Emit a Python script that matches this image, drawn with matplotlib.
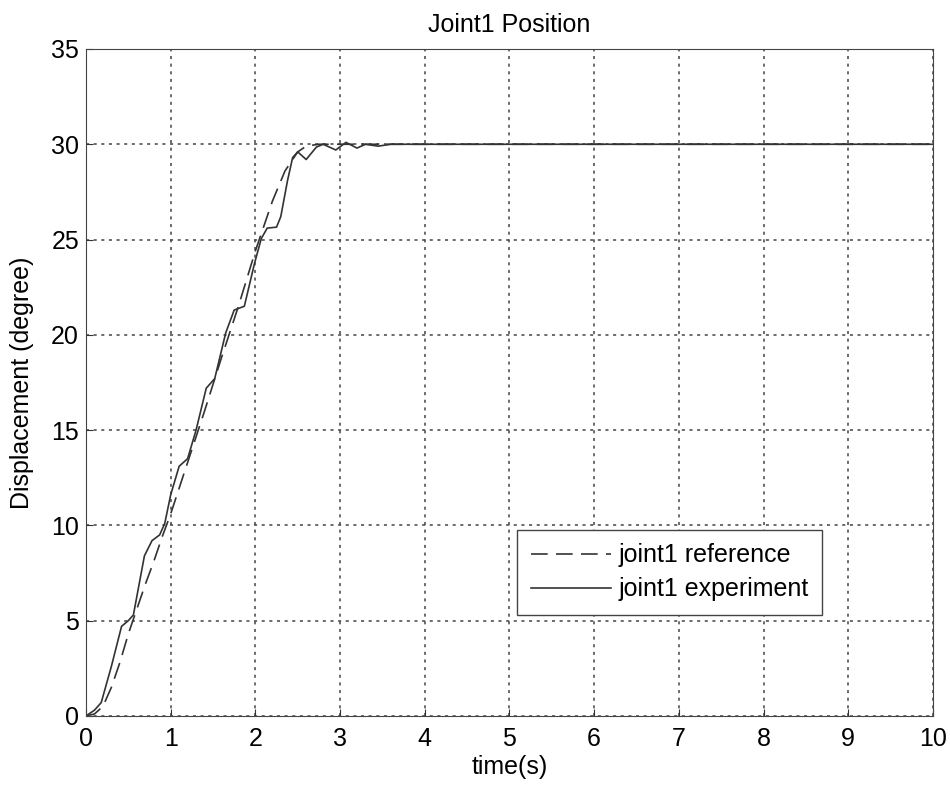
import matplotlib
matplotlib.use("Agg")
import matplotlib.pyplot as plt

# reference trajectory (dashed)
t_ref = [0, 0.1, 0.2, 0.3, 0.4, 0.5, 0.6, 0.7, 0.8, 0.9, 1.0, 1.2, 1.4, 1.6,
         1.8, 2.0, 2.2, 2.35, 2.5, 2.6, 2.75, 10]
y_ref = [0, 0.1, 0.5, 1.5, 2.8, 4.3, 5.6, 6.9, 8.1, 9.4, 10.6, 13.3, 16.0, 18.8,
         21.5, 24.4, 27.0, 28.6, 29.6, 29.9, 30.0, 30.0]

# measured trajectory (solid)
t_exp = [0, 0.1, 0.18, 0.3, 0.42, 0.5, 0.56, 0.69, 0.78, 0.87, 0.93, 1.0, 1.1,
         1.2, 1.3, 1.42, 1.52, 1.65, 1.75, 1.87, 1.99, 2.07, 2.14, 2.25, 2.3,
         2.38, 2.44, 2.5, 2.6, 2.72, 2.8, 2.95, 3.07, 3.2, 3.3, 3.45, 3.6, 10]
y_exp = [0, 0.3, 0.7, 2.6, 4.7, 5.0, 5.3, 8.4, 9.2, 9.5, 10.1, 11.6, 13.1,
         13.5, 15.0, 17.2, 17.7, 20.1, 21.3, 21.5, 23.75, 25.05, 25.6, 25.65, 26.2,
         28.1, 29.3, 29.6, 29.2, 29.85, 30.0, 29.7, 30.1, 29.8, 30.0, 29.9, 30.0, 30.0]

plt.rcParams["font.family"] = ["Liberation Sans", "DejaVu Sans"]
plt.rc("font", size=18)

fig = plt.figure(figsize=(9.5, 7.85), dpi=100)
ax = fig.add_axes([0.0905, 0.088, 0.8915, 0.8496])

ax.plot(t_ref, y_ref, c="#333333", lw=1.2, linestyle=(0, (10, 5)), label="joint1 reference")
ax.plot(t_exp, y_exp, c="#333333", lw=1.2, label="joint1 experiment")

ax.set_xlim(0, 10)
ax.set_ylim(0, 35)
ax.set_xticks(range(0, 11))
ax.set_yticks(range(0, 36, 5))
ax.tick_params(direction="in", length=5, color="#333333", labelsize=18, pad=5)
ax.tick_params(axis="x", pad=8)
ax.grid(True, linestyle=(0, (2, 3)), color="#444444", lw=1.1)
for s in ax.spines.values():
    s.set_color("#444444")

ax.set_title("Joint1 Position", size=18, pad=12)
ax.set_xlabel("time(s)", size=18, labelpad=3)
ax.set_ylabel("Displacement (degree)", size=18, labelpad=12)

leg = ax.legend(loc="lower left", bbox_to_anchor=(0.509, 0.151), borderaxespad=0,
                fancybox=False, edgecolor="#444444", framealpha=1, handlelength=3.2,
                handletextpad=0.3, labelspacing=0.4, borderpad=0.55, fontsize=18)
leg.get_frame().set_linewidth(1.0)

plt.savefig("out.png", dpi=100)
